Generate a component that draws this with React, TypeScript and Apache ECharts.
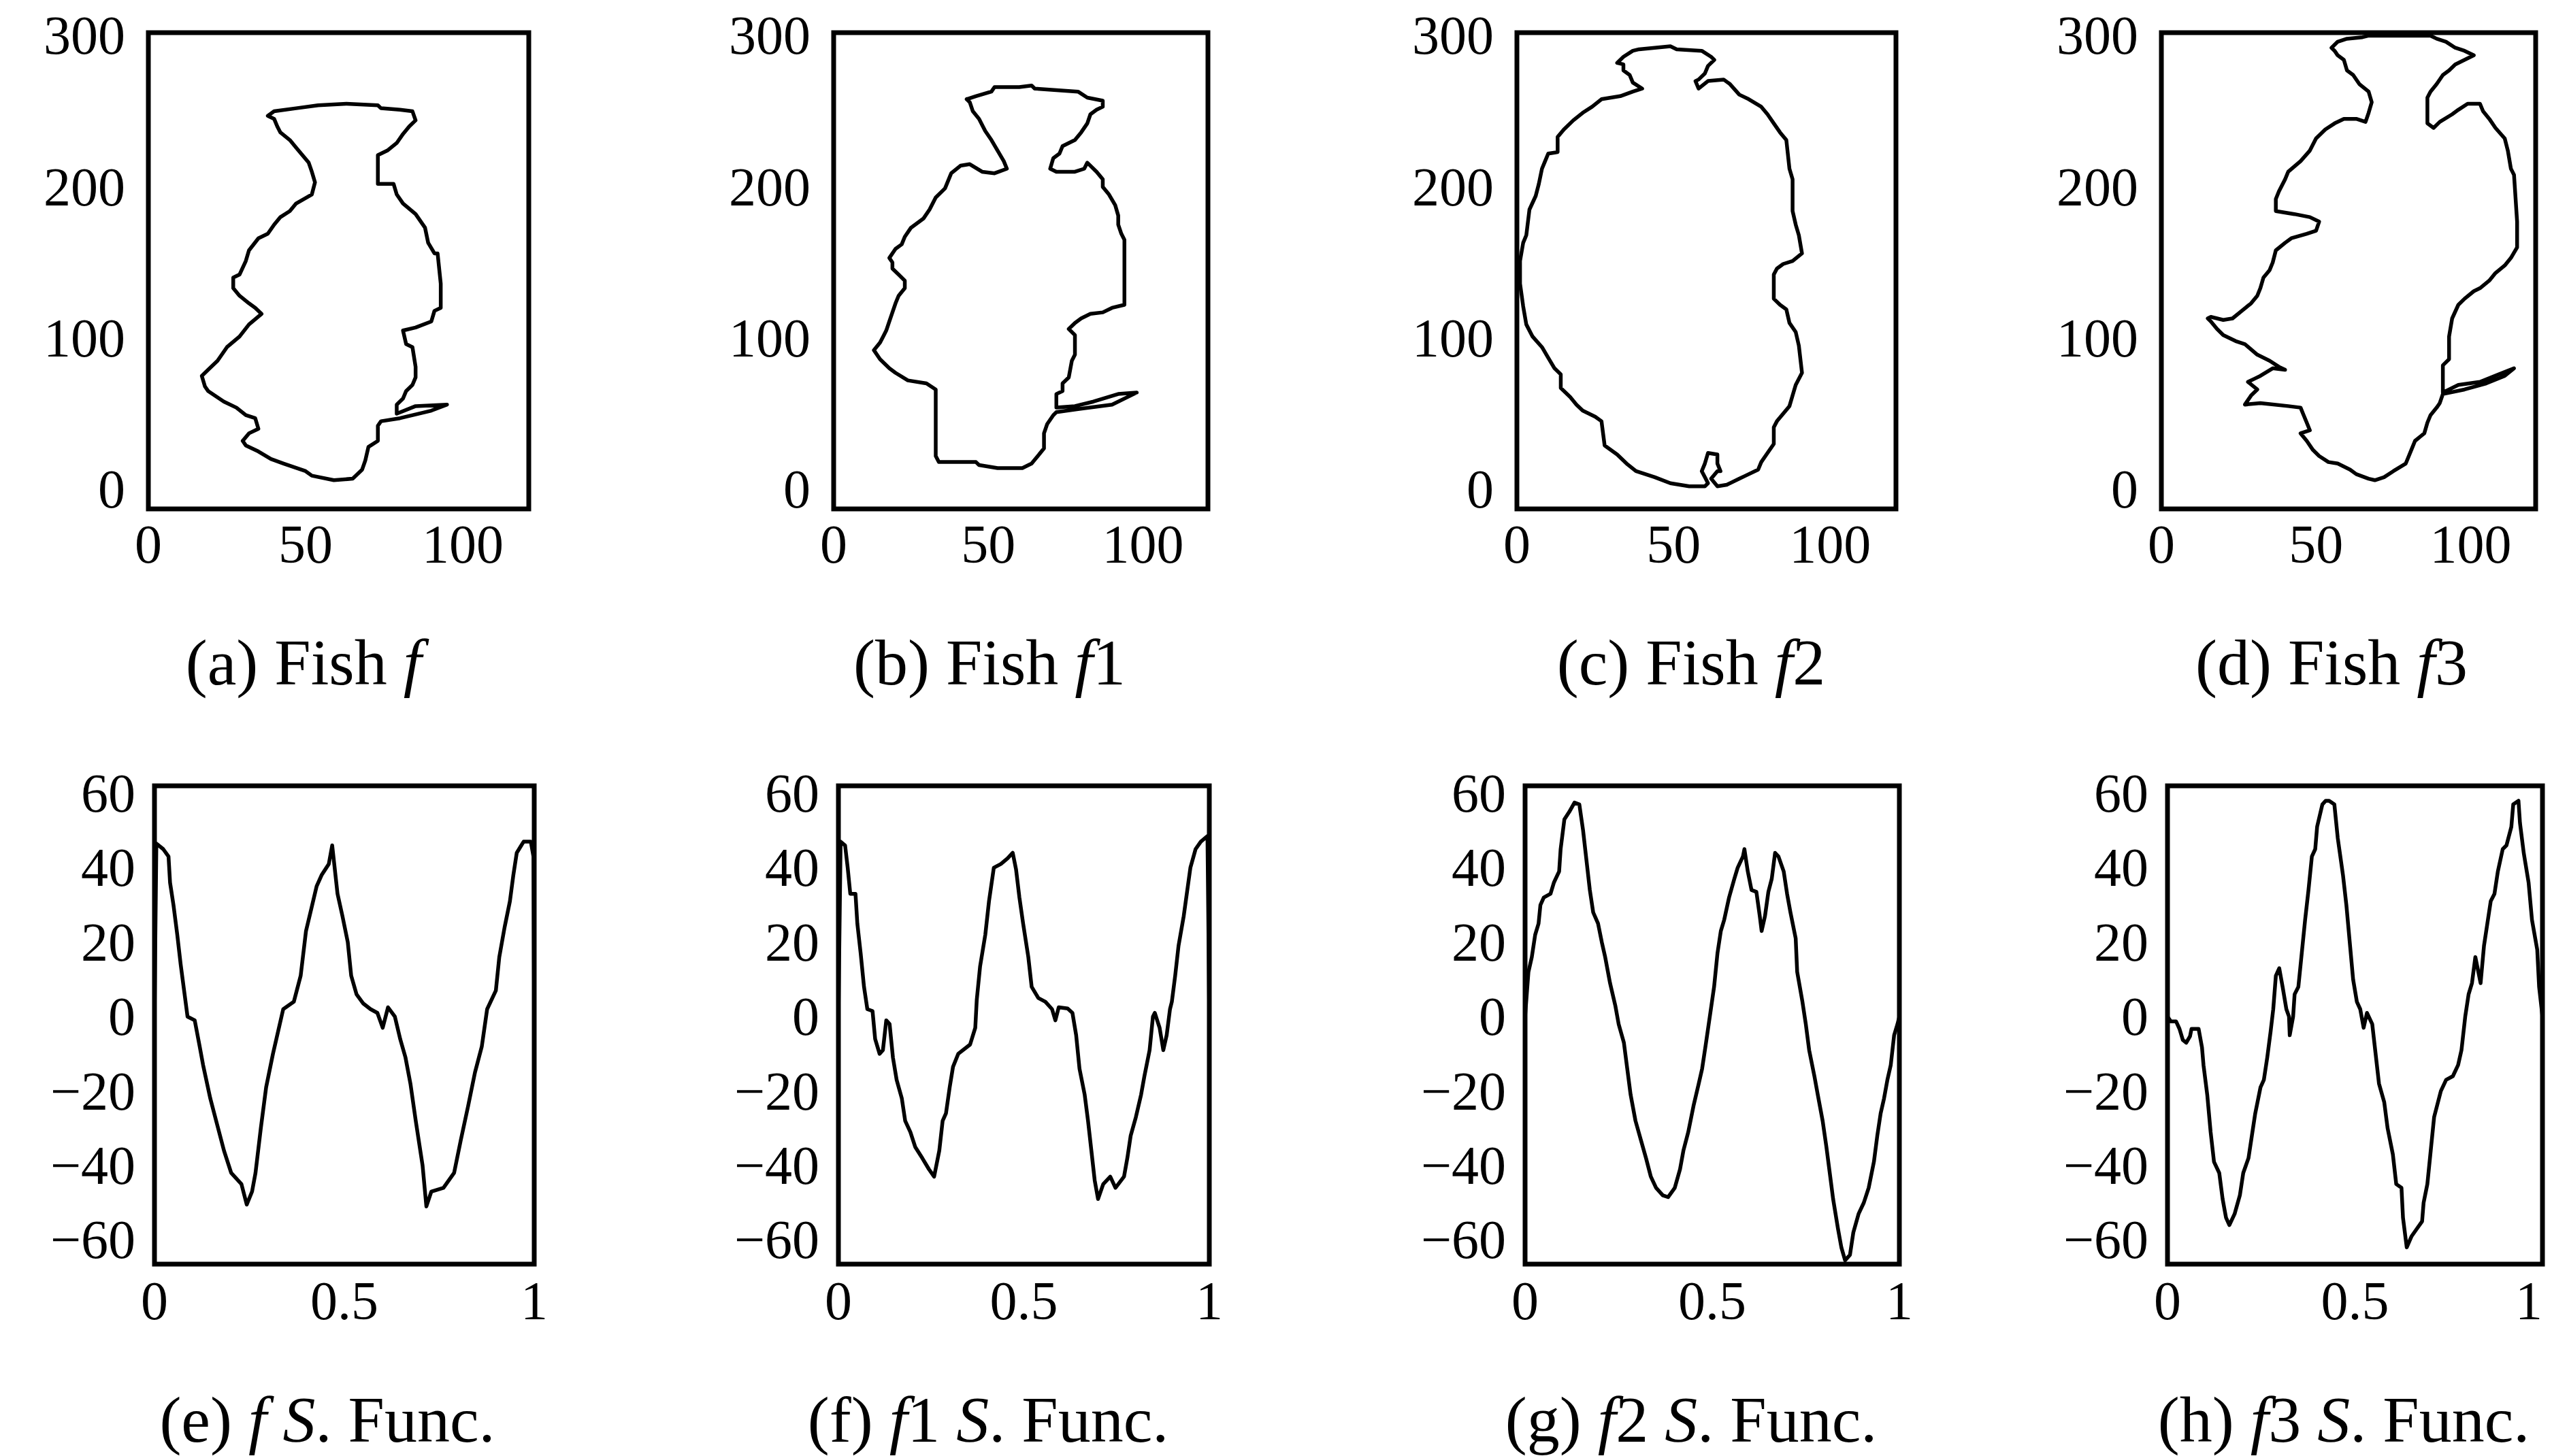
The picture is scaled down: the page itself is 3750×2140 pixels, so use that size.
import React, { useEffect, useRef } from 'react';
import * as echarts from 'echarts';

// ---------- data: fish outlines (x, y) ----------
const fishF: number[][] = [
  [38,247],[40,250],[47,252],[54,254],[63,255],[73,254],[74,252],[80,251],[84,250],[85,244],[83,240],[81,235],[79,229],[76,224],[73,221],[73,215],[73,202],[78,202],[79,195],[81,189],[85,182],[88,173],[89,163],[91,156],[92,156],[93,136],[93,120],[91,118],[90,111],[85,107],[81,105],[82,96],[84,94],[85,81],[85,74],[84,69],[82,65],[81,60],[79,56],[79,50],[85,55],[95,56],[90,52],[80,47],[74,45],[73,42],[73,32],[70,28],[69,19],[68,13],[65,7],[59,6],[52,9],[50,12],[43,17],[39,20],[35,25],[31,29],[30,32],[32,37],[35,40],[34,47],[31,49],[28,54],[24,58],[19,65],[18,68],[17,75],[19,79],[22,85],[25,94],[29,101],[32,109],[36,116],[34,120],[32,123],[29,128],[27,133],[27,140],[29,142],[31,151],[32,158],[35,166],[38,169],[40,175],[42,180],[45,184],[47,189],[52,195],[53,203],[52,210],[51,216],[49,221],[47,226],[45,231],[42,236],[41,240],[40,245]
];
const fishF1: number[][] = [
  [43,258],[46,260],[51,263],[52,266],[60,266],[64,267],[65,265],[72,264],[79,263],[82,259],[87,257],[87,253],[85,251],[83,248],[82,242],[80,236],[78,231],[74,227],[73,222],[71,219],[70,212],[72,210],[78,210],[81,212],[82,216],[85,210],[87,205],[87,200],[89,195],[91,188],[92,181],[92,175],[93,169],[94,165],[94,122],[90,120],[87,117],[83,116],[80,113],[78,110],[76,106],[78,102],[78,89],[77,85],[76,74],[74,70],[74,65],[72,63],[72,54],[78,55],[84,58],[92,63],[98,64],[90,56],[79,53],[72,51],[71,49],[69,43],[68,37],[68,27],[66,22],[64,17],[61,14],[53,14],[47,16],[46,18],[34,18],[33,22],[33,27],[33,66],[30,70],[24,72],[20,77],[18,80],[15,86],[13,92],[15,97],[16,101],[17,105],[18,111],[19,117],[20,123],[21,128],[23,133],[23,138],[21,142],[19,146],[19,150],[18,153],[20,159],[22,162],[23,167],[25,173],[29,179],[31,185],[33,193],[36,199],[38,209],[41,214],[44,215],[48,210],[52,209],[56,212],[55,217],[53,224],[51,231],[49,237],[47,245],[45,250],[44,256]
];
const fishF2: number[][] = [
  [32,282],[34,286],[37,290],[39,291],[49,293],[51,291],[59,290],[62,286],[63,284],[61,280],[60,275],[58,271],[57,270],[58,265],[61,270],[66,271],[68,268],[71,261],[74,258],[78,253],[80,248],[82,242],[84,236],[86,231],[87,212],[88,205],[88,184],[89,175],[90,168],[91,156],[88,151],[85,149],[83,146],[82,142],[82,126],[84,122],[86,119],[87,110],[89,104],[90,95],[91,77],[89,69],[88,62],[87,55],[85,50],[83,45],[82,41],[82,30],[80,24],[78,18],[77,13],[73,9],[71,7],[67,3],[64,2],[62,7],[64,12],[65,12],[64,17],[64,23],[61,24],[60,17],[59,12],[60,8],[61,4],[60,2],[55,2],[49,4],[44,8],[38,12],[35,17],[32,23],[28,29],[27,45],[25,48],[21,52],[19,56],[17,61],[14,67],[14,76],[12,80],[10,87],[8,94],[5,101],[3,109],[2,121],[1,136],[1,151],[2,163],[3,168],[4,185],[6,194],[7,202],[8,212],[9,217],[10,222],[13,223],[13,233],[15,238],[18,244],[21,249],[24,253],[27,258],[33,260],[37,263],[40,265],[37,269],[36,274],[34,277],[34,281]
];
const fishF3: number[][] = [
  [55,292],[57,296],[60,298],[65,299],[67,300],[87,300],[89,298],[92,296],[95,292],[98,290],[101,287],[98,284],[95,281],[93,277],[91,274],[89,268],[87,263],[86,259],[86,242],[88,239],[90,243],[94,248],[96,251],[99,255],[103,255],[104,250],[106,245],[108,239],[111,232],[112,224],[113,212],[114,208],[115,177],[115,160],[113,153],[111,148],[108,143],[106,138],[103,133],[101,131],[98,126],[96,122],[94,113],[93,101],[93,86],[91,82],[91,64],[96,69],[103,71],[109,76],[114,80],[111,75],[105,70],[98,66],[91,63],[90,57],[89,54],[87,49],[86,44],[85,37],[82,32],[81,27],[80,22],[79,17],[75,12],[72,8],[69,6],[67,7],[63,10],[61,13],[57,17],[54,18],[51,22],[49,26],[47,32],[45,37],[48,39],[47,44],[46,49],[45,54],[41,55],[32,57],[27,56],[29,62],[31,66],[28,71],[30,73],[32,75],[36,80],[40,79],[38,81],[35,85],[31,89],[27,96],[24,98],[20,102],[18,106],[16,111],[15,113],[16,114],[20,112],[23,113],[26,118],[29,123],[31,128],[32,133],[33,140],[35,145],[36,150],[37,158],[40,163],[42,166],[47,169],[50,171],[51,177],[48,180],[43,182],[37,184],[37,192],[38,197],[40,205],[41,210],[45,217],[48,224],[50,232],[53,238],[56,242],[59,245],[63,245],[66,243],[67,249],[68,256],[67,263],[64,268],[62,274],[60,277],[59,284],[57,287],[56,290]
];

// ---------- data: S-functions (x, value) ----------
const sFuncF: number[][] = [
  [0,0],[0.005,46.5],[0.023,45],[0.037,43],[0.041,36],[0.05,30],[0.06,22],[0.069,14],[0.078,7],[0.087,0],[0.106,-1],[0.119,-8],[0.128,-13],[0.147,-22],[0.165,-29],[0.183,-36],[0.202,-42],[0.229,-45],[0.243,-50.5],[0.257,-47],[0.266,-42],[0.28,-30],[0.294,-19],[0.312,-10],[0.33,-2],[0.339,2],[0.367,4],[0.385,11],[0.399,23],[0.413,29],[0.427,35],[0.44,38],[0.459,41],[0.468,46],[0.482,33],[0.495,27],[0.509,20],[0.518,11],[0.532,6],[0.55,3.5],[0.569,2],[0.587,1],[0.601,-3],[0.615,2.5],[0.633,0],[0.647,-6],[0.661,-11],[0.674,-18],[0.688,-28],[0.706,-40],[0.716,-51],[0.729,-47],[0.761,-46],[0.789,-42],[0.807,-33],[0.826,-24],[0.844,-15],[0.862,-8],[0.876,2],[0.899,7],[0.908,16],[0.922,24],[0.936,31],[0.945,38],[0.954,44],[0.972,47],[0.991,47],[0.998,43],[1,0]
];
const sFuncF1: number[][] = [
  [0,0],[0.006,47],[0.018,46],[0.025,40],[0.032,33],[0.046,33],[0.051,25],[0.06,17],[0.069,8],[0.078,2],[0.092,1.5],[0.099,-6],[0.111,-10],[0.12,-9],[0.129,-1],[0.138,-2],[0.147,-11],[0.157,-17],[0.171,-22],[0.18,-28],[0.194,-31],[0.207,-35],[0.226,-38],[0.244,-41],[0.258,-43],[0.272,-36],[0.281,-28],[0.29,-26],[0.3,-19],[0.309,-13.5],[0.323,-10],[0.355,-7.5],[0.369,-3],[0.373,4.5],[0.382,13.5],[0.396,22],[0.406,31],[0.419,40],[0.438,41],[0.456,42.5],[0.47,44],[0.479,39.5],[0.488,32],[0.498,25],[0.512,16],[0.521,8],[0.539,5],[0.558,4],[0.576,2],[0.585,-1],[0.594,2.5],[0.618,2.2],[0.631,1],[0.641,-5],[0.65,-14],[0.664,-21],[0.673,-28],[0.682,-36],[0.691,-44],[0.7,-49],[0.714,-45],[0.733,-43],[0.747,-46],[0.77,-43],[0.779,-38],[0.788,-32],[0.802,-27],[0.816,-21],[0.825,-16],[0.839,-9],[0.848,0],[0.853,1],[0.866,-3],[0.876,-9],[0.885,-5],[0.894,2],[0.899,4],[0.908,11],[0.917,19],[0.931,27],[0.94,33.5],[0.949,40],[0.963,45],[0.977,47],[0.995,48.5],[1,0]
];
const sFuncF2: number[][] = [
  [0,0],[0.009,12],[0.018,16],[0.027,22],[0.036,25],[0.041,30],[0.05,32],[0.068,33],[0.077,36],[0.091,39],[0.095,45],[0.105,53],[0.118,55],[0.132,57.5],[0.145,57],[0.155,50],[0.164,42],[0.173,34],[0.182,28],[0.195,25],[0.205,20],[0.214,16],[0.227,9],[0.241,3],[0.25,-2],[0.264,-7],[0.273,-14],[0.282,-21],[0.295,-28],[0.309,-33],[0.323,-38],[0.336,-43],[0.35,-46],[0.368,-48],[0.382,-48.5],[0.4,-46],[0.414,-41],[0.423,-36],[0.436,-31],[0.45,-24],[0.464,-18],[0.473,-14],[0.482,-8],[0.495,1],[0.505,8],[0.514,17],[0.523,23],[0.532,26],[0.545,32],[0.559,37],[0.568,40],[0.582,43],[0.586,45],[0.595,39],[0.605,34],[0.618,33.5],[0.627,27],[0.632,23],[0.641,27],[0.65,33.5],[0.659,37],[0.668,44],[0.677,43],[0.691,39],[0.7,33],[0.709,28],[0.723,21],[0.727,12],[0.741,4],[0.75,-2],[0.759,-9],[0.773,-16],[0.782,-21],[0.795,-28],[0.805,-35],[0.814,-42],[0.823,-49],[0.836,-57],[0.845,-62],[0.855,-65.5],[0.868,-64],[0.877,-58],[0.891,-53],[0.905,-50],[0.918,-46],[0.932,-39],[0.941,-32],[0.95,-26],[0.959,-22],[0.968,-17],[0.977,-13],[0.986,-5],[0.995,-2],[1,0]
];
const sFuncF3: number[][] = [
  [0,0],[0.009,-1.3],[0.023,-1.3],[0.032,-3.3],[0.041,-6.3],[0.05,-7],[0.06,-5.3],[0.064,-3.3],[0.083,-3.3],[0.092,-8.3],[0.096,-13],[0.106,-21],[0.115,-31],[0.124,-39],[0.138,-42],[0.147,-49],[0.156,-54],[0.165,-56],[0.179,-53],[0.193,-48],[0.202,-42],[0.216,-38],[0.225,-32],[0.234,-26],[0.248,-19],[0.257,-17],[0.266,-11],[0.275,-4],[0.282,2],[0.289,11],[0.298,13],[0.307,8],[0.317,2],[0.324,0],[0.326,-5],[0.335,0],[0.339,6],[0.349,8],[0.358,17],[0.367,26],[0.376,34],[0.385,43],[0.394,45],[0.399,51],[0.413,57],[0.422,58],[0.431,58],[0.445,57],[0.454,48],[0.468,38],[0.477,30],[0.486,20],[0.495,10],[0.505,4],[0.514,2],[0.523,-3],[0.532,1],[0.546,-2],[0.555,-10],[0.564,-18],[0.578,-23],[0.587,-30],[0.601,-37],[0.61,-45],[0.624,-46],[0.628,-54],[0.638,-62],[0.651,-59],[0.665,-57],[0.679,-55],[0.683,-50],[0.693,-45],[0.702,-36],[0.711,-27],[0.729,-20],[0.743,-17],[0.761,-16],[0.775,-13],[0.784,-9],[0.794,0],[0.803,6],[0.812,9],[0.821,16],[0.835,9],[0.844,19],[0.853,25],[0.862,31],[0.872,33],[0.881,39],[0.894,45],[0.904,46],[0.917,51],[0.922,57],[0.936,58],[0.94,52],[0.95,44],[0.963,36],[0.972,26],[0.986,18],[0.991,8],[1,0]
];

// ---------- tick labels ----------
const topXTicks = [0, 50, 100];
const topYTicks = [0, 100, 200, 300];
const botXTicks = [0, 0.5, 1];
const botYTicks = [-60, -40, -20, 0, 20, 40, 60];

// ---------- captions ----------
const topCaptions = [
  '{r|(a) Fish }{i|f}',
  '{r|(b) Fish }{i|f}{r|1}',
  '{r|(c) Fish }{i|f}{r|2}',
  '{r|(d) Fish }{i|f}{r|3}',
];
const botCaptions = [
  '{r|(e) }{i|f S}{r|. Func.}',
  '{r|(f) }{i|f}{r|1 }{i|S}{r|. Func.}',
  '{r|(g) }{i|f}{r|2 }{i|S}{r|. Func.}',
  '{r|(h) }{i|f}{r|3 }{i|S}{r|. Func.}',
];

// ---------- layout (pixels) ----------
const FONT = 'Liberation Serif';
const topGrids = [
  { left: 218, top: 48, width: 559, height: 700 },
  { left: 1225, top: 48, width: 550, height: 700 },
  { left: 2229, top: 48, width: 557, height: 700 },
  { left: 3176, top: 48, width: 550, height: 700 },
];
const botGrids = [
  { left: 227, top: 1155, width: 558, height: 703 },
  { left: 1232, top: 1155, width: 545, height: 703 },
  { left: 2241, top: 1155, width: 550, height: 703 },
  { left: 3185, top: 1155, width: 551, height: 703 },
];
const topCapX = [446, 1454, 2485, 3426];
const botCapX = [481, 1452, 2485, 3444];

const fmtMinus = (v: number) => (v < 0 ? '\u2212' + Math.abs(v) : String(v));

export default function App() {
  const ref = useRef<HTMLDivElement>(null);
  useEffect(() => {
    if (!ref.current) return;
    const chart = echarts.init(ref.current, null, { renderer: 'svg' });

    const grids: any[] = [];
    const xAxes: any[] = [];
    const yAxes: any[] = [];
    const series: any[] = [];

    const labelStyle = { color: '#000', fontFamily: FONT, fontSize: 80 };
    const LW = 5.5;
    const BW = 7;

    const fishes = [fishF, fishF1, fishF2, fishF3];
    fishes.forEach((pts, i) => {
      const g = topGrids[i];
      grids.push({ ...g, show: true, borderColor: '#000', borderWidth: BW, backgroundColor: 'transparent', containLabel: false, outerBoundsMode: 'none' });
      xAxes.push({
        type: 'value', gridIndex: i, min: 0, max: 121,
        axisLine: { show: false }, axisTick: { show: false }, splitLine: { show: false },
        axisLabel: { ...labelStyle, margin: 12, customValues: topXTicks },
      });
      yAxes.push({
        type: 'value', gridIndex: i, min: -13, max: 302,
        axisLine: { show: false }, axisTick: { show: false }, splitLine: { show: false },
        axisLabel: { ...labelStyle, margin: 34, customValues: topYTicks },
      });
      series.push({
        type: 'line', xAxisIndex: i, yAxisIndex: i,
        data: [...pts, pts[0]], showSymbol: false, symbol: 'none',
        lineStyle: { color: '#000', width: LW, join: 'round', cap: 'round' }, silent: true,
      });
    });

    const sfuncs = [sFuncF, sFuncF1, sFuncF2, sFuncF3];
    sfuncs.forEach((pts, j) => {
      const i = j + 4;
      const g = botGrids[j];
      grids.push({ ...g, show: true, borderColor: '#000', borderWidth: BW, backgroundColor: 'transparent', containLabel: false, outerBoundsMode: 'none' });
      xAxes.push({
        type: 'value', gridIndex: i, min: 0, max: 1,
        axisLine: { show: false }, axisTick: { show: false }, splitLine: { show: false },
        axisLabel: {
          ...labelStyle, margin: 14, customValues: botXTicks,
          formatter: (v: number) => String(v),
          alignMaxLabel: j === 3 ? 'right' : undefined,
        },
      });
      yAxes.push({
        type: 'value', gridIndex: i, min: -66.5, max: 62,
        axisLine: { show: false }, axisTick: { show: false }, splitLine: { show: false },
        axisLabel: { ...labelStyle, margin: 28, customValues: botYTicks, formatter: fmtMinus },
      });
      series.push({
        type: 'line', xAxisIndex: i, yAxisIndex: i,
        data: pts, showSymbol: false, symbol: 'none',
        lineStyle: { color: '#000', width: LW, join: 'round', cap: 'round' }, silent: true,
      });
    });

    const CAP = 96;
    const rich = {
      r: { fontFamily: FONT, fontSize: CAP, fill: '#000', color: '#000' },
      i: { fontFamily: FONT, fontSize: CAP, fontStyle: 'italic', fill: '#000', color: '#000' },
    };
    const graphic: any[] = [];
    topCaptions.forEach((t, k) => {
      graphic.push({
        type: 'text', x: topCapX[k], y: 973,
        style: { text: t, rich, align: 'center', verticalAlign: 'middle', fontFamily: FONT, fontSize: CAP, fill: '#000' },
      });
    });
    botCaptions.forEach((t, k) => {
      graphic.push({
        type: 'text', x: botCapX[k], y: 2086,
        style: { text: t, rich, align: 'center', verticalAlign: 'middle', fontFamily: FONT, fontSize: CAP, fill: '#000' },
      });
    });

    chart.setOption({
      animation: false,
      backgroundColor: '#fff',
      grid: grids,
      xAxis: xAxes,
      yAxis: yAxes,
      series,
      graphic,
    });
    return () => chart.dispose();
  }, []);
  return <div ref={ref} style={{ position: 'absolute', left: 0, top: 0, width: 3750, height: 2140 }} />;
}
